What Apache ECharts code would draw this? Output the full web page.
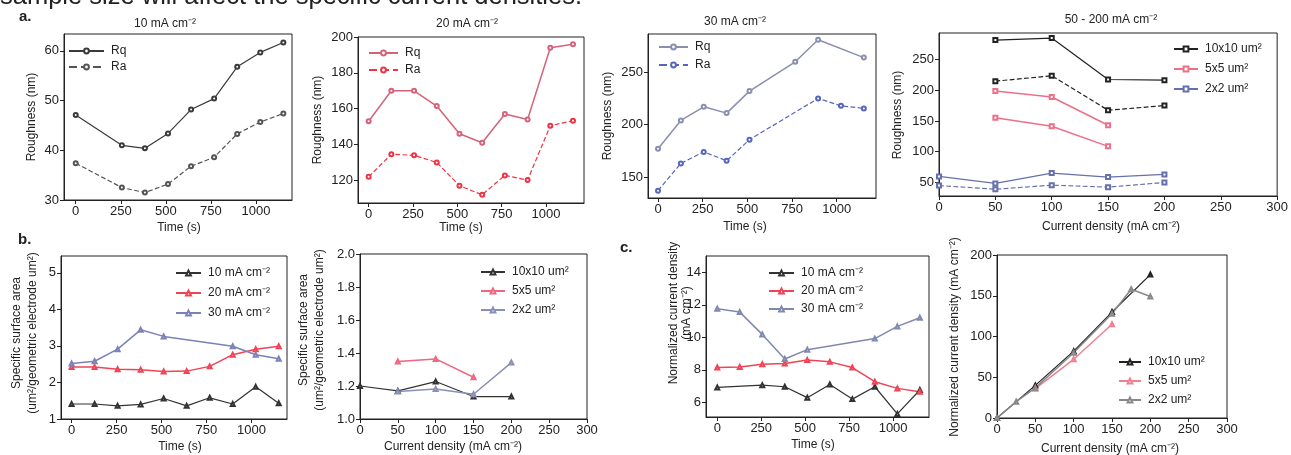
<!DOCTYPE html>
<html>
<head>
<meta charset="utf-8">
<script src="https://cdn.jsdelivr.net/npm/echarts@6/dist/echarts.min.js"></script>
<style>
html,body{margin:0;padding:0;background:#fff;}
#chart{width:1291px;height:455px;}
</style>
</head>
<body>
<div id="chart"></div>
<script>
// ---- tick positions ----
const timeTicks = [0, 250, 500, 750, 1000];
const densityTicks = [0, 50, 100, 150, 200, 250, 300];

// ---- a. roughness vs time ----
const a10Time = [0, 256, 384, 512, 640, 768, 896, 1024, 1152];
const a10Rq = [47.1, 41.0, 40.4, 43.4, 48.2, 50.4, 56.8, 59.7, 61.7];
const a10Ra = [37.4, 32.5, 31.5, 33.2, 36.8, 38.6, 43.3, 45.7, 47.4];

const a20Time = [0, 128, 256, 384, 512, 640, 768, 896, 1024, 1152];
const a20Rq = [153, 170, 170, 161.5, 146, 141, 157, 154, 194, 196];
const a20Ra = [122, 134.6, 134, 130, 117, 112, 122.8, 120.2, 150.5, 153.3];

const a30RqTime = [0, 128, 256, 384, 512, 768, 896, 1152];
const a30Rq = [177, 204, 217, 211, 232, 260, 281, 264];
const a30RaTime = [0, 128, 256, 384, 512, 896, 1024, 1152];
const a30Ra = [137, 163, 174, 165.6, 185.7, 225, 218, 215.5];

// ---- a. roughness vs current density, per scan size ----
const a4Density10 = [50, 100, 150, 200];
const a4Rq10 = [281.5, 284.8, 217.4, 216.3];
const a4Ra10 = [214.7, 223.4, 167.4, 175];
const a4Density5 = [50, 100, 150];
const a4Rq5 = [198.9, 189, 143];
const a4Ra5 = [155.4, 141.3, 108.7];
const a4Density2 = [0, 50, 100, 150, 200];
const a4Rq2 = [59.8, 48.4, 65.2, 58.7, 63];
const a4Ra2 = [45, 39, 45.6, 42.4, 50];

// ---- b. specific surface area ----
const b10Time = [0, 128, 256, 384, 512, 640, 768, 896, 1024, 1152];
const b10 = [1.41, 1.41, 1.36, 1.40, 1.56, 1.36, 1.58, 1.41, 1.88, 1.43];
const b20Time = [0, 128, 256, 384, 512, 640, 768, 896, 1024, 1152];
const b20 = [2.42, 2.42, 2.36, 2.35, 2.30, 2.31, 2.44, 2.76, 2.91, 2.99];
const b30Time = [0, 128, 256, 384, 512, 896, 1024, 1152];
const b30 = [2.52, 2.58, 2.91, 3.44, 3.26, 2.99, 2.76, 2.65];

const bDensity10 = [0, 50, 100, 150, 200];
const bSize10 = [1.20, 1.17, 1.227, 1.136, 1.136];
const bDensity5 = [50, 100, 150];
const bSize5 = [1.348, 1.364, 1.253];
const bDensity2 = [50, 100, 150, 200];
const bSize2 = [1.166, 1.182, 1.15, 1.342];

// ---- c. normalized current density ----
const c10Time = [0, 256, 384, 512, 640, 768, 896, 1024, 1152];
const c10 = [6.92, 7.06, 6.96, 6.29, 7.1, 6.2, 6.96, 5.29, 6.76];
const c20Time = [0, 128, 256, 384, 512, 640, 768, 896, 1024, 1152];
const c20 = [8.14, 8.18, 8.35, 8.39, 8.6, 8.49, 8.14, 7.27, 6.86, 6.65];
const c30Time = [0, 128, 256, 384, 512, 896, 1024, 1152];
const c30 = [11.76, 11.55, 10.18, 8.67, 9.24, 9.92, 10.67, 11.2];

const cDensity10 = [0, 50, 100, 150, 200];
const cSize10 = [0, 40, 82, 130, 176];
const cDensity5 = [50, 100, 150];
const cSize5 = [36, 72, 115];
const cDensity2 = [0, 25, 50, 100, 150, 175, 200];
const cSize2 = [0, 20, 37, 80, 128, 158, 149];

// ---- helpers ----
const FONT = 'Liberation Sans, Arial, Helvetica, sans-serif';
const INK = '#222';
const pts = (xs, ys) => xs.map((x, i) => [x, ys[i]]);

const grids = [], xAxes = [], yAxes = [], series = [], legends = [], graphics = [];

function axis(idx, min, max, ticks, fmt) {
  return {
    type: 'value', gridIndex: idx, min: min, max: max,
    axisLine: { show: true, onZero: false, lineStyle: { color: INK, width: 1 } },
    axisTick: { show: true, customValues: ticks, length: 4, lineStyle: { color: INK } },
    axisLabel: { show: true, customValues: ticks, color: INK, fontSize: 13, fontFamily: FONT, margin: 5,
      formatter: fmt || (v => String(v)) },
    splitLine: { show: false }
  };
}

function panel(box, xr, yr) {
  const idx = grids.length;
  grids.push({ left: box[0], top: box[1], width: box[2], height: box[3],
    show: true, borderColor: INK, borderWidth: 1, backgroundColor: 'transparent' });
  xAxes.push(axis(idx, xr[0], xr[1], xr[2], xr[3]));
  yAxes.push(axis(idx, yr[0], yr[1], yr[2], yr[3]));
  return idx;
}

function line(idx, name, xs, ys, color, symbol, dashed, width) {
  series.push({
    type: 'line', name: name, xAxisIndex: idx, yAxisIndex: idx,
    data: pts(xs, ys),
    symbol: symbol, symbolSize: 4,
    itemStyle: { color: color, borderColor: color, borderWidth: 1 },
    lineStyle: { color: color, width: width || 1.2, type: dashed ? 'dashed' : 'solid' },
    emphasis: { disabled: true }, z: 3
  });
}

function legend(left, top, names, itemWidth, pitch) {
  legends.push({
    left: left, top: top, orient: 'vertical', padding: 0,
    itemWidth: itemWidth, itemHeight: 6, itemGap: pitch - 12,
    selectedMode: false, data: names,
    formatter: n => n.split('|')[1],
    textStyle: { color: INK, fontSize: 12, fontFamily: FONT, lineHeight: 12, padding: [0, 0, 0, 2] }
  });
}

function text(str, x, y, opts) {
  opts = opts || {};
  graphics.push({
    type: 'text', x: x, y: y, rotation: opts.rot ? Math.PI / 2 : 0, silent: true,
    style: {
      text: str, fill: opts.color || INK,
      font: (opts.weight || 'normal') + ' ' + (opts.size || 12) + 'px ' + FONT,
      textAlign: opts.align || 'center', textVerticalAlign: opts.va || 'middle',
      align: opts.align || 'center', verticalAlign: opts.va || 'middle',
      lineHeight: opts.lh || 16
    }
  });
}

// ---- a1: 10 mA cm-2 ----
let p = panel([64, 34, 228, 166], [-65, 1200, timeTicks], [30, 63.4, [30, 40, 50, 60]]);
line(p, 'a1|Rq', a10Time, a10Rq, '#3a3a3a', 'emptyCircle', false);
line(p, 'a1|Ra', a10Time, a10Ra, '#555555', 'emptyCircle', true);
legend(68, 45, ['a1|Rq', 'a1|Ra'], 35, 16);
text('10 mA cm⁻²', 165, 24);
text('Roughness (nm)', 32, 117, { rot: true });
text('Time (s)', 179, 228);

// ---- a2: 20 mA cm-2 ----
p = panel([358, 37, 226, 166], [-60, 1214, timeTicks], [107.4, 200, [120, 140, 160, 180, 200]]);
line(p, 'a2|Rq', a20Time, a20Rq, '#d4637a', 'emptyCircle', false, 1.5);
line(p, 'a2|Ra', a20Time, a20Ra, '#ee3344', 'emptyCircle', true);
legend(368, 47, ['a2|Rq', 'a2|Ra'], 29, 17);
text('20 mA cm⁻²', 467, 24);
text('Roughness (nm)', 318, 120, { rot: true });
text('Time (s)', 461, 228);

// ---- a3: 30 mA cm-2 ----
p = panel([648, 34, 228, 164], [-56, 1220, timeTicks], [130, 286.5, [150, 200, 250]]);
line(p, 'a3|Rq', a30RqTime, a30Rq, '#8a8fb0', 'emptyCircle', false, 1.5);
line(p, 'a3|Ra', a30RaTime, a30Ra, '#5566bb', 'emptyCircle', true);
legend(658, 41, ['a3|Rq', 'a3|Ra'], 29, 18);
text('30 mA cm⁻²', 735, 22);
text('Roughness (nm)', 608, 116, { rot: true });
text('Time (s)', 745, 227);

// ---- a4: 50 - 200 mA cm-2 ----
p = panel([939, 33, 346, 163], [0, 300, densityTicks], [28, 293, [50, 100, 150, 200, 250]]);
line(p, 'a4|10x10 um²', a4Density10, a4Rq10, '#222222', 'emptyRect', false);
line(p, 'a4r|10x10', a4Density10, a4Ra10, '#222222', 'emptyRect', true);
line(p, 'a4|5x5 um²', a4Density5, a4Rq5, '#ee7088', 'emptyRect', false, 1.5);
line(p, 'a4r|5x5', a4Density5, a4Ra5, '#ee7088', 'emptyRect', false, 1.5);
line(p, 'a4|2x2 um²', a4Density2, a4Rq2, '#6670aa', 'emptyRect', false);
line(p, 'a4r|2x2', a4Density2, a4Ra2, '#6670aa', 'emptyRect', true);
legend(1173, 43, ['a4|10x10 um²', 'a4|5x5 um²', 'a4|2x2 um²'], 24, 20);
text('50 - 200 mA cm⁻²', 1111, 20);
text('Roughness (nm)', 898, 115, { rot: true });
text('Current density (mA cm⁻²)', 1111, 227);

// ---- b1: specific surface area vs time ----
p = panel([61, 256, 226, 163], [-59, 1198, timeTicks], [1, 5.46, [1, 2, 3, 4, 5]]);
line(p, 'b1|10 mA cm⁻²', b10Time, b10, '#333333', 'emptyTriangle', false);
line(p, 'b1|20 mA cm⁻²', b20Time, b20, '#ee4455', 'emptyTriangle', false, 1.5);
line(p, 'b1|30 mA cm⁻²', b30Time, b30, '#7b82b5', 'emptyTriangle', false, 1.5);
legend(175, 267, ['b1|10 mA cm⁻²', 'b1|20 mA cm⁻²', 'b1|30 mA cm⁻²'], 25, 20);
text('Specific surface area\n(um²/geometric electrode um²)', 25, 333, { rot: true });
text('Time (s)', 180, 447);

// ---- b2: specific surface area vs current density ----
p = panel([360, 254, 227, 165], [0, 300, densityTicks], [1, 2, [1, 1.2, 1.4, 1.6, 1.8, 2], v => v.toFixed(1)]);
line(p, 'b2|10x10 um²', bDensity10, bSize10, '#333333', 'emptyTriangle', false);
line(p, 'b2|5x5 um²', bDensity5, bSize5, '#ee6680', 'emptyTriangle', false, 1.5);
line(p, 'b2|2x2 um²', bDensity2, bSize2, '#8a90b5', 'emptyTriangle', false, 1.5);
legend(480, 266, ['b2|10x10 um²', 'b2|5x5 um²', 'b2|2x2 um²'], 24, 19);
text('Specific surface area\n(um²/geometric electrode um²)', 312, 330, { rot: true });
text('Current density (mA cm⁻²)', 453, 447);

// ---- c1: normalized current density vs time ----
p = panel([706, 256, 223, 161], [-64, 1204, timeTicks], [5.1, 15, [6, 8, 10, 12, 14]]);
line(p, 'c1|10 mA cm⁻²', c10Time, c10, '#333333', 'emptyTriangle', false);
line(p, 'c1|20 mA cm⁻²', c20Time, c20, '#ee4455', 'emptyTriangle', false, 1.5);
line(p, 'c1|30 mA cm⁻²', c30Time, c30, '#8088b0', 'emptyTriangle', false, 1.5);
legend(768, 267, ['c1|10 mA cm⁻²', 'c1|20 mA cm⁻²', 'c1|30 mA cm⁻²'], 25, 18);
text('Normalized current density\n(mA cm⁻²)', 680, 313, { rot: true, lh: 13 });
text('Time (s)', 813, 445);

// ---- c2: normalized current density vs current density ----
p = panel([997, 255, 230, 163], [0, 300, densityTicks], [0, 200, [0, 50, 100, 150, 200]]);
line(p, 'c2|10x10 um²', cDensity10, cSize10, '#222222', 'emptyTriangle', false);
line(p, 'c2|5x5 um²', cDensity5, cSize5, '#f08090', 'emptyTriangle', false, 1.5);
line(p, 'c2|2x2 um²', cDensity2, cSize2, '#888888', 'emptyTriangle', false, 1.5);
legend(1118, 356, ['c2|10x10 um²', 'c2|5x5 um²', 'c2|2x2 um²'], 22, 19);
text('Normalized current density (mA cm⁻²)', 955, 337, { rot: true });
text('Current density (mA cm⁻²)', 1110, 449);

// ---- panel letters and running text ----
text('sample size will affect the specific current densities.', 0, 9, { size: 25.5, align: 'left', va: 'bottom', lh: 25 });
text('a.', 19, 17, { size: 15, weight: 'bold', align: 'left' });
text('b.', 18, 240, { size: 15, weight: 'bold', align: 'left' });
text('c.', 620, 248, { size: 15, weight: 'bold', align: 'left' });

const chart = echarts.init(document.getElementById('chart'), null, { renderer: 'canvas' });
chart.setOption({
  animation: false,
  backgroundColor: '#ffffff',
  grid: grids, xAxis: xAxes, yAxis: yAxes,
  series: series, legend: legends, graphic: graphics
});
</script>
</body>
</html>
